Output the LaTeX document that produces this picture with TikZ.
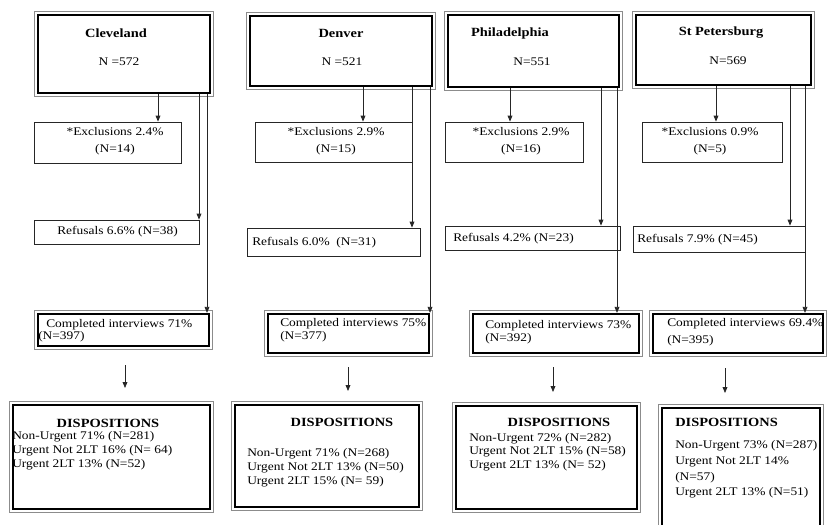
\documentclass[tikz,border=0pt]{standalone}
\usepackage{fontspec}
\setmainfont{Liberation Serif}[FakeStretch=1.15]
\usetikzlibrary{arrows.meta}
\begin{document}
\begin{tikzpicture}[x=0.75pt,y=-0.75pt,
  bx/.style 2 args={minimum width=#1*0.75pt, minimum height=#2*0.75pt, inner sep=0pt},
  thinbox/.style={draw=black!85, line width=0.6pt},
  dbl/.style={draw=black, line width=1.7pt},
  outerline/.style={draw=black!45, line width=0.6pt},
  txt/.style={inner sep=0pt, font=\fontsize{8.75}{10.3}\selectfont},
  ttl/.style={inner sep=0pt, font=\fontsize{9.4}{11}\selectfont\bfseries},
  arr/.style={draw=black!85, line width=0.6pt, -{Triangle[length=4.5pt,width=3.6pt]}}
]
\clip (0,0) rectangle (829,525);
\useasboundingbox (0,0) rectangle (829,525);

% ---------------- Cleveland ----------------
\node[dbl, bx={172}{78}] (cleT) at (124,54) {};
\node[ttl] (cleTt) at (116,33) {Cleveland};
\node[txt] (cleTn) at (119,62) {N =572};
\node[thinbox, bx={147}{41}] (cleE) at (107.5,142.5) {};
\node[txt, align=center, font=\fontsize{8.75}{12.6}\selectfont] (cleEt) at (115,141.5) {*Exclusions 2.4\%\\(N=14)};
\node[thinbox, bx={165}{24}] (cleR) at (116.5,232) {};
\node[txt, anchor=west] (cleRt) at (57,232) {Refusals 6.6\% (N=38)};
\node[dbl, bx={171}{32}] (cleC) at (123.5,330) {};
\node[txt, anchor=west, align=left, font=\fontsize{8.75}{8.8}\selectfont] (cleCt) at (38,331) {\hspace*{6pt}Completed interviews 71\%\\(N=397)};
\coordinate (cleA1) at (125,365);
\coordinate (cleA2) at (125,388);
\node[dbl, bx={197}{104}] (cleD) at (111.5,457) {};
\node[ttl] (cleDt) at (108,423) {DISPOSITIONS};
\node[txt, anchor=west, align=left] (cleDl) at (12,450.5) {Non-Urgent 71\% (N=281)\\Urgent Not 2LT 16\% (N= 64)\\Urgent 2LT 13\% (N=52)};

% ---------------- Denver ----------------
\node[dbl, bx={182}{70}] (denT) at (341,51) {};
\node[ttl] (denTt) at (341,33) {Denver};
\node[txt] (denTn) at (342,62) {N =521};
\node[thinbox, bx={157}{40}] (denE) at (333.5,142) {};
\node[txt, align=center, font=\fontsize{8.75}{12.6}\selectfont] (denEt) at (336,141.5) {*Exclusions 2.9\%\\(N=15)};
\node[thinbox, bx={173}{28}] (denR) at (333.5,242) {};
\node[txt, anchor=west] (denRt) at (252,243) {Refusals 6.0\%~ (N=31)};
\node[dbl, bx={161}{39}] (denC) at (348.5,333.5) {};
\node[txt, anchor=west, align=left, font=\fontsize{8.75}{9.8}\selectfont] (denCt) at (280,330.5) {Completed interviews 75\%\\(N=377)};
\coordinate (denA1) at (348,367);
\coordinate (denA2) at (348,391);
\node[dbl, bx={184}{102}] (denD) at (327,456) {};
\node[ttl] (denDt) at (342,422) {DISPOSITIONS};
\node[txt, anchor=west, align=left] (denDl) at (247,467.5) {Non-Urgent 71\% (N=268)\\Urgent Not 2LT 13\% (N=50)\\Urgent 2LT 15\% (N= 59)};

% ---------------- Philadelphia ----------------
\node[dbl, bx={171}{72}] (phiT) at (533.5,51) {};
\node[ttl] (phiTt) at (510,33) {Philadelphia};
\node[txt] (phiTn) at (532,62) {N=551};
\node[thinbox, bx={138}{40}] (phiE) at (514,142) {};
\node[txt, align=center, font=\fontsize{8.75}{12.6}\selectfont] (phiEt) at (521,141.5) {*Exclusions 2.9\%\\(N=16)};
\node[thinbox, bx={175}{24}] (phiR) at (532.5,238) {};
\node[txt, anchor=west] (phiRt) at (453,239) {Refusals 4.2\% (N=23)};
\node[dbl, bx={166}{39}] (phiC) at (556,333.5) {};
\node[txt, anchor=west, align=left, font=\fontsize{8.75}{9.8}\selectfont] (phiCt) at (485,332.5) {Completed interviews 73\%\\(N=392)};
\coordinate (phiA1) at (553,367);
\coordinate (phiA2) at (553,392);
\node[dbl, bx={181}{103}] (phiD) at (546.5,457.5) {};
\node[ttl] (phiDt) at (559,422) {DISPOSITIONS};
\node[txt, anchor=west, align=left] (phiDl) at (469,452) {Non-Urgent 72\% (N=282)\\Urgent Not 2LT 15\% (N=58)\\Urgent 2LT 13\% (N= 52)};

% ---------------- St Petersburg ----------------
\node[dbl, bx={175}{70}] (stpT) at (723.5,50) {};
\node[ttl] (stpTt) at (721,33) {St Petersburg};
\node[txt] (stpTn) at (728,61) {N=569};
\node[thinbox, bx={140}{40}] (stpE) at (712,142) {};
\node[txt, align=center, font=\fontsize{8.75}{12.6}\selectfont] (stpEt) at (710,141.5) {*Exclusions 0.9\%\\(N=5)};
\node[thinbox, bx={172}{26}] (stpR) at (719,239) {};
\node[txt, anchor=west] (stpRt) at (637,240) {Refusals 7.9\% (N=45)};
\node[dbl, bx={170}{39}] (stpC) at (738,333.5) {};
\node[txt, anchor=west, align=left, font=\fontsize{8.75}{12.5}\selectfont] (stpCt) at (667,332.5) {Completed interviews 69.4\%\\(N=395)};
\coordinate (stpA1) at (725,368);
\coordinate (stpA2) at (725,393);
\node[dbl, bx={158}{127}] (stpD) at (741,471.5) {};
\node[ttl, anchor=west] (stpDt) at (675,422) {DISPOSITIONS};
\node[txt, anchor=west, align=left, font=\fontsize{8.75}{11.8}\selectfont] (stpDl) at (675,469.5) {Non-Urgent 73\% (N=287)\\Urgent Not 2LT 14\%\\(N=57)\\Urgent 2LT 13\% (N=51)};

% thin grey outer frame of the heavy boxes
\foreach \n in {cleT,cleC,cleD,denT,denC,denD,phiT,phiC,phiD,stpT,stpC,stpD}
  \draw[outerline] ([shift={(-1.9pt,1.9pt)}]\n.north west) rectangle ([shift={(1.9pt,-1.9pt)}]\n.south east);

% ---------------- connectors ----------------
\draw[arr] (cleT.south -| 158,0) -- (cleE.north -| 158,0);
\draw[arr] (cleT.south -| 199,0) -- (cleR.north -| 199,0);
\draw[arr] (cleT.south -| 207,0) -- (cleC.north -| 207,0);
\draw[arr] (cleA1) -- (cleA2);

\draw[arr] (denT.south -| 363,0) -- (denE.north -| 363,0);
\draw[arr] (denT.south -| 412,0) -- (denR.north -| 412,0);
\draw[arr] (denT.south -| 430,0) -- (denC.north -| 430,0);
\draw[arr] (denA1) -- (denA2);

\draw[arr] (phiT.south -| 510,0) -- (phiE.north -| 510,0);
\draw[arr] (phiT.south -| 601,0) -- (phiR.north -| 601,0);
\draw[arr] (phiT.south -| 617,0) -- (phiC.north -| 617,0);
\draw[arr] (phiA1) -- (phiA2);

\draw[arr] (stpT.south -| 716,0) -- (stpE.north -| 716,0);
\draw[arr] (stpT.south -| 790,0) -- (stpR.north -| 790,0);
\draw[arr] (stpT.south -| 805,0) -- (stpC.north -| 805,0);
\draw[arr] (stpA1) -- (stpA2);
\end{tikzpicture}
\end{document}
